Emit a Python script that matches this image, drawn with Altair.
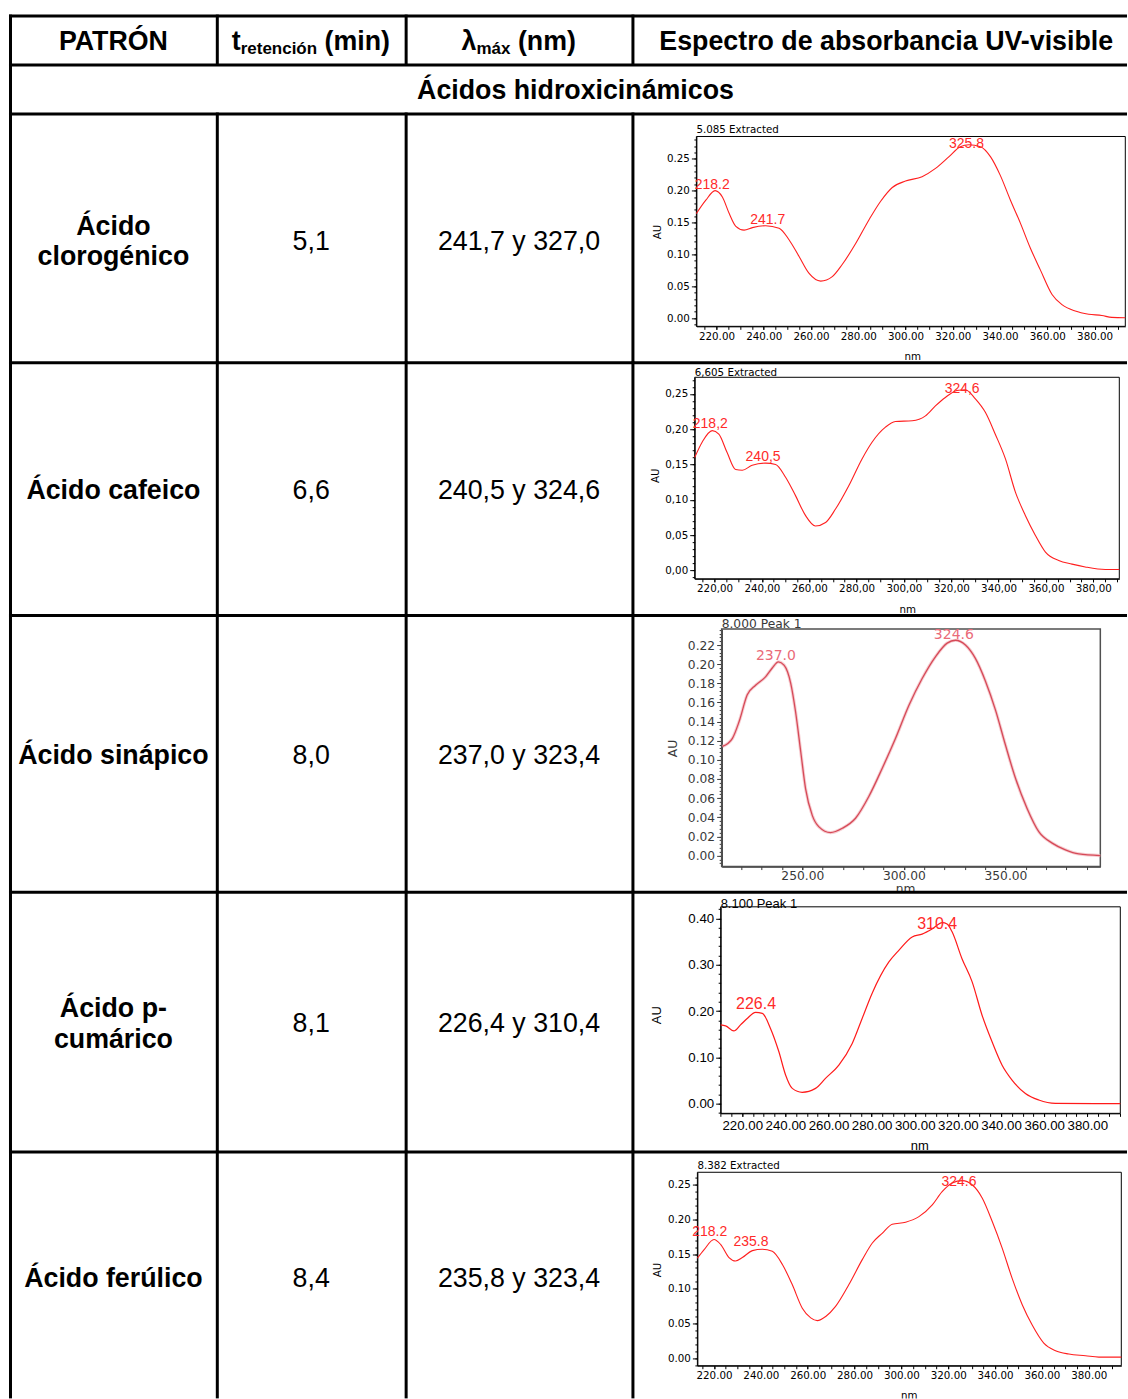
import math
import altair as alt
import pandas as pd

# ---------------- table content ----------------
header_cols = ["PATRÓN", "t", "retención", "(min)", "λ", "máx", "(nm)",
               "Espectro de absorbancia UV-visible"]
group_title = "Ácidos hidroxicinámicos"
patrones = ["Ácido\nclorogénico", "Ácido cafeico", "Ácido sinápico",
            "Ácido p-\ncumárico", "Ácido ferúlico"]
t_retencion = ["5,1", "6,6", "8,0", "8,1", "8,4"]
lambda_max = ["241,7 y 327,0", "240,5 y 324,6", "237,0 y 323,4",
              "226,4 y 310,4", "235,8 y 323,4"]

# ---------------- UV-visible spectra (nm, AU) ----------------
nm_clorogenico = [211.5, 215.5, 219.4, 222.5, 225.4, 228.2, 231.7, 235.2, 240.8, 246.5,
                  250.7, 254.9, 259.2, 264.1, 269.0, 273.2, 278.9, 284.5, 289.4, 294.4,
                  300.0, 307.0, 312.7, 318.3, 323.2, 326.8, 331.7, 336.0, 340.1, 344.4,
                  348.6, 352.8, 357.0, 362.0, 366.2, 371.8, 377.5, 383.1, 387.3, 393.0]
au_clorogenico = [0.164, 0.185, 0.200, 0.190, 0.164, 0.144, 0.138, 0.142, 0.145, 0.141,
                  0.123, 0.097, 0.070, 0.058, 0.065, 0.084, 0.117, 0.154, 0.183, 0.205,
                  0.215, 0.222, 0.235, 0.253, 0.269, 0.272, 0.269, 0.253, 0.224, 0.185,
                  0.149, 0.110, 0.076, 0.037, 0.021, 0.011, 0.006, 0.004, 0.001, 0.0005]

nm_cafeico = [211.6, 214.8, 219.0, 221.8, 225.3, 228.9, 231.7, 235.9, 241.5, 245.8,
              250.0, 254.2, 258.4, 262.6, 266.9, 271.1, 276.7, 282.3, 286.6, 292.2,
              296.4, 303.5, 309.1, 313.3, 317.5, 322.4, 326.0, 330.2, 334.4, 338.6,
              342.9, 347.1, 351.3, 355.5, 359.8, 365.4, 371.0, 376.6, 385.1, 391.0]
au_cafeico = [0.160, 0.182, 0.198, 0.193, 0.167, 0.143, 0.142, 0.149, 0.152, 0.150,
              0.132, 0.106, 0.078, 0.063, 0.068, 0.087, 0.120, 0.158, 0.182, 0.203,
              0.211, 0.212, 0.219, 0.233, 0.245, 0.255, 0.256, 0.243, 0.224, 0.193,
              0.158, 0.111, 0.078, 0.050, 0.026, 0.014, 0.009, 0.005, 0.0014, 0.0014]

nm_sinapico = [210.7, 215.6, 218.9, 222.9, 227.0, 232.0, 235.2, 238.2, 241.0, 244.3,
               246.7, 249.2, 251.6, 254.9, 258.2, 263.9, 269.7, 276.2, 282.8, 289.3,
               295.9, 302.5, 309.0, 315.6, 321.3, 325.4, 330.3, 335.2, 340.2, 345.1,
               350.0, 354.9, 360.7, 366.4, 373.0, 379.5, 386.1, 396.7]
au_sinapico = [0.114, 0.1225, 0.140, 0.168, 0.178, 0.187, 0.196, 0.2025, 0.199, 0.180,
               0.150, 0.109, 0.070, 0.042, 0.030, 0.024, 0.0285, 0.039, 0.062, 0.091,
               0.1225, 0.157, 0.185, 0.208, 0.222, 0.225, 0.220, 0.206, 0.182, 0.152,
               0.1155, 0.081, 0.049, 0.025, 0.013, 0.006, 0.0017, 0.0]

nm_cumarico = [210.0, 212.3, 216.1, 219.2, 222.3, 226.2, 229.3, 233.1, 237.0, 240.1,
               243.2, 247.8, 254.0, 258.6, 264.8, 271.0, 275.6, 280.2, 288.0, 292.6,
               298.8, 303.4, 308.0, 312.7, 315.0, 317.3, 321.9, 326.6, 331.2, 335.8,
               340.5, 345.1, 351.3, 357.5, 365.2, 395.3]
au_cumarico = [0.170, 0.168, 0.157, 0.170, 0.184, 0.197, 0.195, 0.1625, 0.112, 0.062,
               0.033, 0.0245, 0.033, 0.0546, 0.0834, 0.130, 0.184, 0.238, 0.306, 0.331,
               0.360, 0.366, 0.377, 0.391, 0.388, 0.371, 0.313, 0.263, 0.191, 0.134,
               0.083, 0.051, 0.022, 0.008, 0.0007, 0.0]

nm_ferulico = [212.9, 215.7, 220.0, 222.8, 226.4, 229.2, 232.1, 236.4, 240.6, 244.9,
               249.2, 253.4, 257.7, 261.3, 264.1, 267.7, 271.9, 277.6, 283.3, 287.6,
               291.8, 296.1, 301.8, 307.5, 313.2, 317.4, 321.7, 326.0, 330.2, 334.5,
               338.8, 343.0, 347.3, 351.6, 355.8, 360.8, 365.8, 371.5, 378.6, 384.3, 393.9]
au_ferulico = [0.144, 0.156, 0.171, 0.164, 0.145, 0.140, 0.145, 0.155, 0.157, 0.154,
               0.135, 0.106, 0.072, 0.058, 0.054, 0.060, 0.0745, 0.106, 0.142, 0.166,
               0.180, 0.193, 0.196, 0.204, 0.221, 0.240, 0.2525, 0.256, 0.250, 0.231,
               0.197, 0.159, 0.115, 0.077, 0.048, 0.0216, 0.0106, 0.0058, 0.0034, 0.0014, 0.0014]

# peak annotations: wavelength, peak absorbance, printed label
peaks_clorogenico = ([218.2, 241.7, 325.8], [0.200, 0.145, 0.272], ["218.2", "241.7", "325.8"])
peaks_cafeico = ([218.2, 240.5, 324.6], [0.198, 0.152, 0.256], ["218,2", "240,5", "324,6"])
peaks_sinapico = ([237.0, 324.6], [0.2025, 0.225], ["237.0", "324.6"])
peaks_cumarico = ([226.4, 310.4], [0.197, 0.391], ["226.4", "310.4"])
peaks_ferulico = ([218.2, 235.8, 324.6], [0.171, 0.157, 0.256], ["218.2", "235.8", "324.6"])

spectrum_titles = ["5.085 Extracted", "6,605 Extracted", "8.000 Peak 1",
                   "8.100 Peak 1", "8.382 Extracted"]

# ---------------- layout ----------------
TABLE_W = 1118
COL_X = [0, 207, 396, 623]
HEADER_H = 49
GROUP_H = 49
ROW_H = [249, 253, 277, 260, 247]
TEXT_CY = [127, 127, 139, 131, 126]   # vertical centre of the cell text in each row
FONT = "Liberation Sans"
BIG = 26.8
CAP_HALF = 0.358 * BIG                # baseline sits half a cap height below the centre

STD = dict(font="DejaVu Sans", label_size=10.3, title_size=10.3, axis_color="black",
           label_color="black", frame_color="black", frame_w=1, line_color="#ff1f1f",
           line_w=1.1, halo=None, peak_font=FONT, peak_size=14, peak_color="#ff2a2a",
           ytick=5, yminor=2.5, xtick=3, label_pad=2)

spectra = [
    dict(nm=nm_clorogenico, au=au_clorogenico, peaks=peaks_clorogenico, peak_dy=[-1.5, -1.5, 3.5],
         title=spectrum_titles[0], title_dy=-3.5, decimal=".",
         frame=(64, 493.3, 23, 213), xdom=[211.5, 393.0], ydom=[-0.013, 0.285],
         x_labels=list(range(220, 381, 20)), x_step=5,
         y_labels=[0, 0.05, 0.10, 0.15, 0.20, 0.25], y_step=0.01,
         au_pos=(25, 118), nm_pos=(280, 243), nm_clip=False, style=STD),
    dict(nm=nm_cafeico, au=au_cafeico, peaks=peaks_cafeico, peak_dy=[-2.5, -2.5, 3],
         title=spectrum_titles[1], title_dy=-1.5, decimal=",",
         frame=(62.3, 487.3, 15, 216.7), xdom=[211.6, 391.0], ydom=[-0.0118, 0.2736],
         x_labels=list(range(220, 381, 20)), x_step=5,
         y_labels=[0, 0.05, 0.10, 0.15, 0.20, 0.25], y_step=0.01,
         au_pos=(23, 113), nm_pos=(275, 247), nm_clip=False, style=STD),
    dict(nm=nm_sinapico, au=au_sinapico, peaks=peaks_sinapico, peak_dy=[-1.5, -1],
         title=spectrum_titles[2], title_dy=-1.5, decimal=".",
         frame=(89.3, 468.3, 14, 251.7), xdom=[210.3, 396.7], ydom=[-0.0115, 0.2367],
         x_labels=[250, 300, 350], x_step=10,
         y_labels=[round(0.02 * k, 2) for k in range(12)], y_step=0.004,
         au_pos=(40, 133), nm_pos=(273, 274), nm_clip=False,
         style=dict(STD, font="DejaVu Sans", label_size=12.3, title_size=12.3,
                    axis_color="#3a3a3a", label_color="#383838", frame_color="#505050",
                    frame_w=1.5, line_color="#d64a58", line_w=1.3, halo="#f2b8be",
                    peak_font="DejaVu Sans", peak_size=14, peak_color="#ea6a78",
                    ytick=5, yminor=2.5, xtick=3, label_pad=0)),
    dict(nm=nm_cumarico, au=au_cumarico, peaks=peaks_cumarico, peak_dy=[-3, 6],
         title=spectrum_titles[3], title_dy=1, decimal=".",
         frame=(88.3, 488.3, 15, 221.7), xdom=[210.0, 395.3], ydom=[-0.0209, 0.425],
         x_labels=list(range(220, 381, 20)), x_step=5,
         y_labels=[0, 0.1, 0.2, 0.3, 0.4], y_step=0.02,
         au_pos=(24, 123), nm_pos=(287, 254), nm_clip=False,
         style=dict(STD, font=FONT, label_size=13.3, title_size=13, line_color="#ff1a1a",
                    line_w=1.2, peak_size=16, ytick=5)),
    dict(nm=nm_ferulico, au=au_ferulico, peaks=peaks_ferulico, peak_dy=[-4, -3, 5],
         title=spectrum_titles[4], title_dy=-3.5, decimal=".",
         frame=(65, 489.3, 20.7, 214.3), xdom=[212.9, 393.9], ydom=[-0.011, 0.268],
         x_labels=list(range(220, 381, 20)), x_step=5,
         y_labels=[0, 0.05, 0.10, 0.15, 0.20, 0.25], y_step=0.01,
         au_pos=(25, 118), nm_pos=(277, 245), nm_clip=True, style=STD),
]


def one_row():
    return pd.DataFrame({"k": [0]})


def hline(x1, x2, y):
    return alt.Chart(one_row()).mark_rect(color="black").encode(
        x=alt.value(x1), x2=alt.value(x2), y=alt.value(y - 1), y2=alt.value(y + 2))


def vline(x, y1, y2):
    return alt.Chart(one_row()).mark_rect(color="black").encode(
        x=alt.value(x - 1), x2=alt.value(x + 2), y=alt.value(y1), y2=alt.value(y2))


def text_at(txt, x, y, size=BIG, weight="normal", align="center", font=FONT,
            color="black", baseline="alphabetic", clip=False):
    kw = dict(font=font, fontSize=size, fontWeight=weight, align=align,
              baseline=baseline, color=color, lineBreak="\n", lineHeight=31)
    if clip:
        kw["clip"] = True
    return alt.Chart(pd.DataFrame({"t": [txt]})).mark_text(**kw).encode(
        x=alt.value(x), y=alt.value(y), text="t:N")


def grid_borders(h, verticals):
    layers = [hline(-1, TABLE_W, 0)]
    for cx in verticals:
        layers.append(vline(cx, -1, h))
    return layers


def tick_values(d0, d1, step):
    k0 = math.ceil(d0 / step - 1e-9)
    k1 = math.floor(d1 / step + 1e-9)
    return [round(k * step, 6) for k in range(k0, k1 + 1)]


def spectrum_layers(sp, h):
    st = sp["style"]
    x0 = COL_X[3]
    fl, fr, ft, fb = sp["frame"]
    L, R, T, B = x0 + fl, x0 + fr, ft, fb
    xs = alt.Scale(domain=sp["xdom"], range=[L, R], zero=False, nice=False)
    ys = alt.Scale(domain=sp["ydom"], range=[B, T], zero=False, nice=False)
    if sp["decimal"] == ",":
        lab = "replace(format(datum.value, '.2f'), '.', ',')"
    else:
        lab = "format(datum.value, '.2f')"

    common = dict(grid=False, labelFlush=False, labelOverlap=False,
                  tickColor=st["axis_color"], domainColor=st["axis_color"])
    title_kw = dict(titleFont=st["font"], titleFontSize=st["title_size"],
                    titleFontWeight="normal", titleColor=st["label_color"],
                    titleAlign="center", titleBaseline="middle")
    y_major = alt.Axis(orient="left", offset=-L, values=sp["y_labels"], labelExpr=lab,
                       tickSize=st["ytick"], labelPadding=2, labelFont=st["font"],
                       labelFontSize=st["label_size"], labelColor=st["label_color"],
                       domainWidth=st["frame_w"], title="AU",
                       titleX=sp["au_pos"][0] - fl, titleY=sp["au_pos"][1], titleAngle=270,
                       **title_kw, **common)
    x_kw = dict(title=None)
    if not sp["nm_clip"]:
        x_kw = dict(title="nm", titleX=x0 + sp["nm_pos"][0], titleY=sp["nm_pos"][1] - fb,
                    **title_kw)
    x_major = alt.Axis(orient="bottom", offset=fb - h, values=sp["x_labels"], labelExpr=lab,
                       tickSize=st["xtick"], labelPadding=st["label_pad"], labelFont=st["font"],
                       labelFontSize=st["label_size"], labelColor=st["label_color"],
                       domainWidth=st["frame_w"], **x_kw, **common)
    y_minor = alt.Axis(orient="left", offset=-L,
                       values=tick_values(sp["ydom"][0], sp["ydom"][1], sp["y_step"]),
                       labels=False, domain=False, tickSize=st["yminor"], title=None, **common)
    x_minor = alt.Axis(orient="bottom", offset=fb - h,
                       values=tick_values(sp["xdom"][0], sp["xdom"][1], sp["x_step"]),
                       labels=False, domain=False, tickSize=st["xtick"], title=None, **common)

    box = pd.DataFrame({"a": [sp["xdom"][0]], "b": [sp["xdom"][1]],
                        "c": [sp["ydom"][0]], "d": [sp["ydom"][1]]})
    frame = alt.Chart(box).mark_rect(fillOpacity=0, stroke=st["frame_color"],
                                     strokeWidth=st["frame_w"]).encode(
        x=alt.X("a:Q", scale=xs, axis=x_minor), x2="b:Q",
        y=alt.Y("c:Q", scale=ys, axis=y_minor), y2="d:Q")

    curve_df = pd.DataFrame({"nm": sp["nm"], "au": sp["au"]})
    layers = [frame]
    if st["halo"]:
        layers.append(alt.Chart(curve_df).mark_line(
            color=st["halo"], strokeWidth=3.2, opacity=0.7, interpolate="monotone").encode(
            x=alt.X("nm:Q", scale=xs, axis=None), y=alt.Y("au:Q", scale=ys, axis=None)))
    layers.append(alt.Chart(curve_df).mark_line(
        color=st["line_color"], strokeWidth=st["line_w"], interpolate="monotone").encode(
        x=alt.X("nm:Q", scale=xs, axis=x_major), y=alt.Y("au:Q", scale=ys, axis=y_major)))

    p_nm, p_au, p_lab = sp["peaks"]
    for wl, a, lbl, dy in zip(p_nm, p_au, p_lab, sp["peak_dy"]):
        layers.append(alt.Chart(pd.DataFrame({"nm": [wl], "au": [a], "t": [lbl]})).mark_text(
            font=st["peak_font"], fontSize=st["peak_size"], color=st["peak_color"],
            align="center", baseline="alphabetic", dy=dy).encode(
            x=alt.X("nm:Q", scale=xs, axis=None), y=alt.Y("au:Q", scale=ys, axis=None),
            text="t:N"))

    head = pd.DataFrame({"nm": [sp["xdom"][0]], "au": [sp["ydom"][1]], "t": [sp["title"]]})
    layers.append(alt.Chart(head).mark_text(
        font=st["font"], fontSize=st["title_size"], color=st["label_color"], align="left",
        baseline="alphabetic", dy=sp["title_dy"]).encode(
        x=alt.X("nm:Q", scale=xs, axis=None), y=alt.Y("au:Q", scale=ys, axis=None),
        text="t:N"))

    if sp["nm_clip"]:
        layers.append(text_at("nm", x0 + sp["nm_pos"][0], sp["nm_pos"][1],
                              size=st["title_size"], font=st["font"], baseline="middle",
                              clip=True))
    return layers


# ---------------- header rows ----------------
SUB = 17
t_w = 0.333 * BIG
lam_w = 0.556 * BIG
space_w = 0.278 * BIG
header = alt.layer(
    text_at(header_cols[0], 103.5, 25 + CAP_HALF, weight="bold"),
    text_at(header_cols[1], 222, 25 + CAP_HALF, weight="bold", align="left"),
    text_at(header_cols[2], 222 + t_w, 38.5, size=SUB, weight="bold", align="left"),
    text_at(header_cols[3], 222 + t_w + 4.501 * SUB + space_w, 25 + CAP_HALF,
            weight="bold", align="left"),
    text_at(header_cols[4], 452, 25 + CAP_HALF, weight="bold", align="left"),
    text_at(header_cols[5], 452 + lam_w, 38.5, size=SUB, weight="bold", align="left"),
    text_at(header_cols[6], 452 + lam_w + 2.001 * SUB + space_w, 25 + CAP_HALF,
            weight="bold", align="left"),
    text_at(header_cols[7], 877, 25 + CAP_HALF, weight="bold"),
    *grid_borders(HEADER_H, COL_X),
).properties(width=TABLE_W, height=HEADER_H)

group_row = alt.layer(
    text_at(group_title, 566, 25 + CAP_HALF, weight="bold"),
    *grid_borders(GROUP_H, [0]),
).properties(width=TABLE_W, height=GROUP_H)

# ---------------- data rows ----------------
rows = [header, group_row]
for i, sp in enumerate(spectra):
    h = ROW_H[i]
    cy = TEXT_CY[i]
    n_lines = patrones[i].count("\n") + 1
    name_y = cy - (n_lines - 1) * 31 / 2 + CAP_HALF
    cells = [
        text_at(patrones[i], 103.5, name_y, weight="bold"),
        text_at(t_retencion[i], 301.5, cy + CAP_HALF),
        text_at(lambda_max[i], 509.5, cy + CAP_HALF),
    ]
    row = alt.layer(
        *spectrum_layers(sp, h),
        *cells,
        *grid_borders(h, COL_X),
    ).properties(width=TABLE_W, height=h).resolve_axis(x="independent", y="independent")
    rows.append(row)

chart = alt.vconcat(
    *rows, spacing=0, bounds="flush",
    padding={"left": 9, "top": 14, "right": 0, "bottom": 0},
).configure_view(stroke=None).properties(background="white")

chart.save("out.html", embed_options={"renderer": "svg", "actions": False})
